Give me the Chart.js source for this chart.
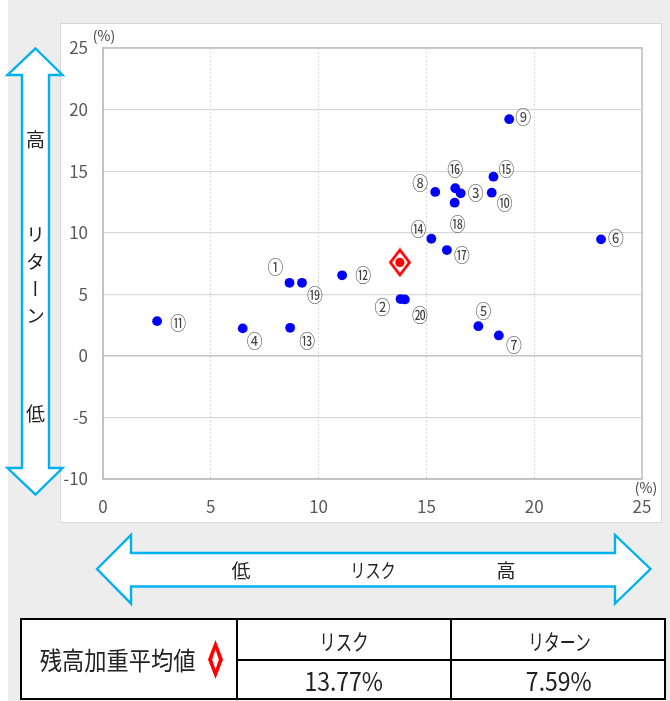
<!DOCTYPE html>
<html lang="ja">
<head>
<meta charset="utf-8">
<title>リスク・リターン</title>
<script src="https://cdn.jsdelivr.net/npm/chart.js@4"></script>
<style>
  html, body { margin: 0; padding: 0; background: #fff; }
  body { width: 670px; height: 701px; position: relative; overflow: hidden;
         font-family: "Noto Sans CJK JP", "Noto Sans", sans-serif; color: #222; }
  #bg { position: absolute; left: 8px; top: 0; width: 662px; height: 701px; background: #ededed; }
  #box { position: absolute; left: 60px; top: 23px; width: 602px; height: 500px;
         background: #fff; border: 1px solid #d6d6d6; box-sizing: border-box; }
  #chart { position: absolute; left: 60px; top: 23px; }
  #arrows { position: absolute; left: 0; top: 0; }
  .lbl { position: absolute; font-size: 19px; line-height: 1; white-space: nowrap; color: #222; }
  .vert { writing-mode: vertical-rl; text-orientation: upright; letter-spacing: 8px; }
  #table { position: absolute; left: 20px; top: 618px; width: 646px; height: 82px;
           background: #fff; border: 2px solid #000; box-sizing: border-box; }
  .ln { position: absolute; background: #000; }
  .cell { position: absolute; display: flex; align-items: center; justify-content: center;
          white-space: nowrap; color: #222; }
  .cell span { display: inline-block; }
</style>
</head>
<body>
<div id="bg"></div>
<div id="box"></div>
<canvas id="chart" width="602" height="500"></canvas>

<svg id="arrows" width="670" height="701" viewBox="0 0 670 701">
  <!-- vertical return arrow -->
  <polygon points="35.5,48.5 62.5,75 49,75 49,468 62.5,468 35.5,494.5 7.5,468 22,468 22,75 7.5,75"
           fill="#fff" stroke="#00b0f0" stroke-width="2.4" stroke-linejoin="miter"/>
  <!-- horizontal risk arrow -->
  <polygon points="97,569 131,535 131,553 615,553 615,535 650.5,569 615,603.5 615,586.5 131,586.5 131,603.5"
           fill="#fff" stroke="#00b0f0" stroke-width="2.4" stroke-linejoin="miter"/>
</svg>

<div class="lbl" style="left:26px; top:128.5px;">高</div>
<div class="lbl vert" style="left:26px; top:225px; width:19px;">リターン</div>
<div class="lbl" style="left:26px; top:402.5px;">低</div>

<div class="lbl" style="left:231.5px; top:560px;">低</div>
<div class="lbl" style="left:373px; top:559.5px; transform: translateX(-50%) scaleX(0.8);">リスク</div>
<div class="lbl" style="left:496.5px; top:559.5px;">高</div>

<div id="table">
  <div class="ln" style="left:214px; top:0; width:2px; height:78px;"></div>
  <div class="ln" style="left:428px; top:0; width:2px; height:78px;"></div>
  <div class="ln" style="left:215px; top:39px; width:429px; height:2px;"></div>
  <div class="cell" style="left:0; top:0; width:192px; height:78px; font-size:25px;">
    <span style="transform: scaleX(0.89);">残高加重平均値</span>
  </div>
  <svg style="position:absolute; left:185px; top:19px;" width="17" height="42" viewBox="0 0 17 42">
    <polygon points="8.5,1 16,20.5 8.5,40 1,20.5" fill="#ff0000"/>
    <polygon points="8.5,10.5 11.8,20.5 8.5,30.5 5.2,20.5" fill="#fff"/>
  </svg>
  <div class="cell" style="left:216px; top:0; width:212px; height:39px; font-size:22px;">
    <span style="transform: scaleX(0.75);">リスク</span>
  </div>
  <div class="cell" style="left:430px; top:0; width:214px; height:39px; font-size:22px;">
    <span style="transform: scaleX(0.72);">リターン</span>
  </div>
  <div class="cell" id="riskCell" style="left:216px; top:41px; width:212px; height:37px; font-size:25px;">
    <span style="transform: scaleX(0.92);"></span>
  </div>
  <div class="cell" id="retCell" style="left:430px; top:41px; width:214px; height:37px; font-size:25px;">
    <span style="transform: scaleX(0.92);"></span>
  </div>
</div>

<script>
// Funds: risk (annualised std dev, %) and return (%)
const fundLabels = ['①','②','③','④','⑤','⑥','⑦','⑧','⑨','⑩',
                    '⑪','⑫','⑬','⑭','⑮','⑯','⑰','⑱','⑲','⑳'];
const fundRisk   = [8.65, 13.80, 16.59, 6.48, 17.41, 23.10, 18.36, 15.41, 18.84, 18.03,
                    2.51, 11.09, 8.68, 15.23, 18.11, 16.34, 15.95, 16.31, 9.23, 14.00];
const fundReturn = [5.93, 4.61, 13.20, 2.23, 2.41, 9.46, 1.66, 13.31, 19.22, 13.25,
                    2.82, 6.54, 2.28, 9.51, 14.55, 13.61, 8.59, 12.44, 5.93, 4.58];

// Balance-weighted average
const wavgRisk = 13.77;
const wavgReturn = 7.59;

// Axis ticks
const xTicks = [0, 5, 10, 15, 20, 25];
const yTicks = [-10, -5, 0, 5, 10, 15, 20, 25];

// Label placement relative to each dot (px)
const labelOffsets = [
  [-14,-16], [-18, 8], [15, 0], [12, 13], [5,-15], [15,-1], [15, 10], [-15,-9], [14,-2], [13, 10],
  [21, 2], [21, 0], [17, 13], [-13,-10], [13,-8], [0,-19], [15, 5], [3, 21], [13, 12], [15, 16]
];

document.querySelector('#riskCell span').textContent = wavgRisk.toFixed(2) + '%';
document.querySelector('#retCell span').textContent = wavgReturn.toFixed(2) + '%';

// Hollow diamond used as the marker for the weighted average
const diamond = document.createElement('canvas');
diamond.width = 24; diamond.height = 30;
(function () {
  const c = diamond.getContext('2d');
  c.strokeStyle = '#ff0000';
  c.lineWidth = 2.8;
  c.lineJoin = 'miter';
  c.beginPath();
  c.moveTo(12, 2.5); c.lineTo(21.5, 15); c.lineTo(12, 27.5); c.lineTo(2.5, 15);
  c.closePath();
  c.stroke();
})();

const TICK_FONT = { family: '"Noto Sans CJK JP", "Noto Sans", sans-serif', size: 17 };
const TICK_COLOR = '#595959';

const framePlugin = {
  id: 'frame',
  beforeDatasetsDraw(chart) {
    const { ctx, chartArea: a } = chart;
    ctx.save();
    ctx.strokeStyle = '#c0c0c0';
    ctx.lineWidth = 1.5;
    ctx.strokeRect(a.left, a.top, a.right - a.left, a.bottom - a.top);
    ctx.restore();
  }
};

const pointLabelPlugin = {
  id: 'pointLabels',
  afterDatasetsDraw(chart) {
    const { ctx, chartArea: a } = chart;
    const meta = chart.getDatasetMeta(0);
    ctx.save();
    ctx.font = '18px "Noto Sans CJK JP", "Noto Sans", sans-serif';
    ctx.fillStyle = '#404040';
    ctx.textAlign = 'center';
    ctx.textBaseline = 'middle';
    meta.data.forEach((pt, i) => {
      const [dx, dy] = labelOffsets[i];
      ctx.save();
      ctx.translate(pt.x + dx, pt.y + dy);
      ctx.scale(0.88, 1);
      ctx.fillText(fundLabels[i], 0, 0);
      ctx.restore();
    });
    // unit captions
    ctx.font = '14px "Noto Sans CJK JP", "Noto Sans", sans-serif';
    ctx.fillStyle = '#404040';
    ctx.fillText('(%)', a.left + 1, a.top - 12);
    ctx.fillText('(%)', a.right + 4, a.bottom + 9);
    ctx.restore();
  }
};

new Chart(document.getElementById('chart'), {
  type: 'scatter',
  data: {
    datasets: [
      {
        label: 'funds',
        data: fundRisk.map((r, i) => ({ x: r, y: fundReturn[i] })),
        backgroundColor: '#0000ff',
        borderColor: '#0000ff',
        borderWidth: 0,
        pointRadius: 4.9,
        order: 3
      },
      {
        label: 'wavgMarker',
        data: [{ x: wavgRisk, y: wavgReturn }],
        pointStyle: diamond,
        order: 2
      },
      {
        label: 'wavgDot',
        data: [{ x: wavgRisk, y: wavgReturn }],
        backgroundColor: '#ff0000',
        borderColor: '#ff0000',
        borderWidth: 0,
        pointRadius: 4.6,
        order: 1
      }
    ]
  },
  options: {
    responsive: false,
    animation: false,
    devicePixelRatio: 1,
    layout: { padding: { top: 25, right: 20, left: 0, bottom: 0 } },
    plugins: { legend: { display: false }, tooltip: { enabled: false } },
    scales: {
      x: {
        type: 'linear',
        min: xTicks[0],
        max: xTicks[xTicks.length - 1],
        afterBuildTicks(scale) { scale.ticks = xTicks.map(v => ({ value: v })); },
        afterFit(scale) {
          scale.height = 44;
          scale.paddingLeft = 0;
          scale.paddingRight = 0;
        },
        ticks: { color: TICK_COLOR, font: TICK_FONT, padding: 17, maxRotation: 0 },
        grid: { color: '#d9d9d9', lineWidth: 1, drawTicks: false },
        border: { display: true, color: '#c0c0c0', width: 1.5, dash: [2, 2] }
      },
      y: {
        type: 'linear',
        min: yTicks[0],
        max: yTicks[yTicks.length - 1],
        afterBuildTicks(scale) { scale.ticks = yTicks.map(v => ({ value: v })); },
        afterFit(scale) {
          scale.width = 43;
          scale.paddingTop = 0;
          scale.paddingBottom = 0;
        },
        ticks: { color: TICK_COLOR, font: TICK_FONT, padding: 15 },
        grid: {
          color: ctx => (ctx.tick && ctx.tick.value === 0) ? '#c4c4c4' : '#d9d9d9',
          lineWidth: ctx => (ctx.tick && ctx.tick.value === 0) ? 1.5 : 1.2,
          drawTicks: false
        },
        border: { display: true, color: '#c0c0c0', width: 1.5 }
      }
    }
  },
  plugins: [framePlugin, pointLabelPlugin]
});
</script>
</body>
</html>
